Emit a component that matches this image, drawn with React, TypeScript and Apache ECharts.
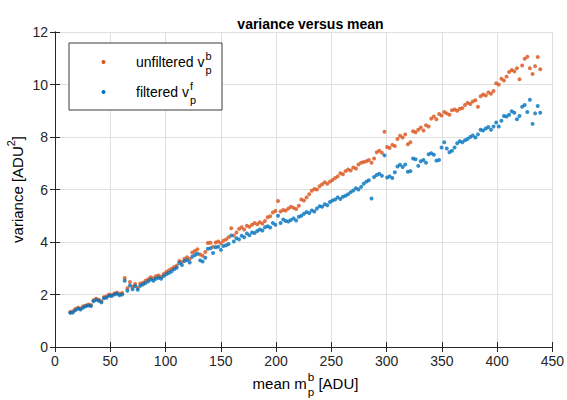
import React, { useEffect, useRef } from "react";
import * as echarts from "echarts";

// Mean signal per pixel group [ADU]
const meanADU = [
  13.8, 16.1, 18.4, 20.8, 23.1, 25.5, 27.8, 30.2, 32.5, 34.9, 37.2, 39.6, 41.9, 44.3, 46.6, 49.0, 51.3, 53.7, 56.0, 58.4,
  60.8, 63.1, 65.5, 67.8, 70.2, 72.5, 74.9, 77.2, 79.6, 81.9, 84.3, 86.6, 89.0, 91.3, 93.7, 96.0, 98.4, 100.7, 103.1, 105.4,
  107.8, 110.1, 112.5, 114.8, 117.2, 119.5, 121.9, 124.2, 126.6, 128.9, 131.3, 133.6, 136.0, 138.3, 140.7, 143.0, 145.4, 147.7, 150.1, 152.4,
  154.8, 157.1, 159.5, 161.8, 164.2, 166.5, 168.9, 171.2, 173.6, 175.9, 178.3, 180.6, 183.0, 185.3, 187.7, 190.0, 192.4, 194.7, 197.1, 199.4,
  201.8, 204.1, 206.5, 208.8, 211.2, 213.5, 215.9, 218.2, 220.6, 222.9, 225.3, 227.6, 230.0, 232.3, 234.7, 237.0, 239.4, 241.7, 244.1, 246.4,
  248.8, 251.1, 253.5, 255.8, 258.2, 260.5, 262.9, 265.2, 267.6, 269.9, 272.3, 274.6, 277.0, 279.3, 281.7, 284.0, 286.4, 288.7, 291.1, 293.4,
  295.8, 298.1, 300.5, 302.8, 305.2, 307.5, 309.9, 312.2, 314.6, 316.9, 319.3, 321.6, 324.0, 326.3, 328.7, 331.0, 333.4, 335.7, 338.1, 340.4,
  342.8, 345.1, 347.5, 349.8, 352.2, 354.5, 356.9, 359.2, 361.6, 363.9, 366.3, 368.6, 371.0, 373.3, 375.7, 378.0, 380.4, 382.7, 385.1, 387.4,
  389.8, 392.1, 394.5, 396.8, 399.2, 401.5, 403.9, 406.2, 408.6, 410.9, 413.3, 415.6, 418.0, 420.3, 422.7, 425.0, 427.4, 429.7, 432.1, 434.4, 436.8, 439.1,
];

// Variance before filtering, v_p^b [ADU^2]
const varUnfiltered = [
  1.33, 1.36, 1.45, 1.50, 1.47, 1.55, 1.58, 1.62, 1.60, 1.78, 1.84, 1.80, 1.74, 1.90, 1.93, 2.00, 1.98, 2.04, 2.08, 2.03,
  2.06, 2.63, 2.24, 2.48, 2.30, 2.40, 2.26, 2.42, 2.45, 2.52, 2.58, 2.66, 2.62, 2.70, 2.72, 2.68, 2.78, 2.86, 2.92, 2.98,
  3.05, 3.10, 3.28, 3.24, 3.36, 3.42, 3.35, 3.60, 3.66, 3.72, 3.52, 3.48, 3.62, 3.96, 3.97, 3.82, 3.98, 4.02, 3.95, 4.05,
  4.10, 4.18, 4.52, 4.25, 4.36, 4.50, 4.56, 4.48, 4.62, 4.58, 4.66, 4.72, 4.68, 4.75, 4.70, 4.80, 4.94, 4.98, 5.12, 5.18,
  5.56, 5.16, 5.22, 5.20, 5.28, 5.34, 5.30, 5.26, 5.38, 5.62, 5.58, 5.70, 5.82, 5.95, 6.02, 6.00, 6.12, 6.20, 6.28, 6.22,
  6.30, 6.36, 6.44, 6.50, 6.62, 6.58, 6.70, 6.76, 6.72, 6.84, 6.80, 6.95, 7.02, 7.05, 7.08, 7.12, 7.02, 7.18, 7.42, 7.48,
  7.40, 8.20, 7.62, 7.58, 7.70, 7.66, 7.92, 8.05, 7.98, 8.10, 7.72, 7.80, 8.22, 8.18, 8.28, 8.36, 8.25, 8.45, 8.40, 8.70,
  8.78, 8.68, 8.88, 8.82, 8.95, 8.90, 8.85, 9.02, 9.05, 9.00, 9.08, 9.10, 9.22, 9.30, 9.26, 9.35, 9.40, 9.15, 9.55, 9.62,
  9.58, 9.70, 9.65, 9.75, 10.05, 10.00, 10.22, 10.15, 10.30, 10.48, 10.55, 10.50, 10.62, 10.20, 10.72, 10.98, 11.06, 10.62, 10.40, 10.70, 11.05, 10.58,
];

// Variance after filtering, v_p^f [ADU^2]
const varFiltered = [
  1.30, 1.31, 1.40, 1.46, 1.43, 1.50, 1.55, 1.58, 1.56, 1.74, 1.80, 1.76, 1.70, 1.86, 1.88, 1.95, 1.94, 2.00, 2.03, 1.97,
  2.00, 2.52, 2.14, 2.34, 2.20, 2.32, 2.18, 2.33, 2.38, 2.44, 2.50, 2.57, 2.52, 2.60, 2.64, 2.60, 2.70, 2.77, 2.82, 2.88,
  2.96, 3.02, 3.20, 3.12, 3.28, 3.31, 3.22, 3.44, 3.50, 3.55, 3.30, 3.26, 3.40, 3.74, 3.76, 3.58, 3.80, 3.82, 3.70, 3.85,
  3.88, 3.92, 4.25, 4.02, 4.14, 4.10, 4.24, 4.18, 4.32, 4.26, 4.36, 4.34, 4.42, 4.48, 4.44, 4.56, 4.60, 4.55, 4.72, 4.66,
  5.00, 4.72, 4.86, 4.80, 4.78, 4.84, 4.90, 4.82, 4.96, 5.00, 5.08, 5.14, 5.10, 5.20, 5.16, 5.28, 5.36, 5.34, 5.44, 5.40,
  5.52, 5.58, 5.62, 5.70, 5.64, 5.72, 5.76, 5.82, 5.90, 5.96, 6.05, 6.00, 6.10, 6.22, 6.30, 6.35, 5.66, 6.48, 6.55, 6.60,
  6.52, 7.30, 6.46, 6.50, 6.44, 6.66, 6.88, 6.94, 6.86, 6.95, 6.68, 6.70, 7.18, 7.15, 6.90, 7.08, 7.12, 7.02, 7.34, 7.38,
  7.32, 7.10, 7.12, 7.60, 7.80, 7.56, 7.42, 7.48, 7.60, 7.76, 7.84, 7.80, 7.88, 7.92, 8.00, 8.06, 7.98, 8.10, 8.28, 8.25,
  8.32, 8.38, 8.28, 8.40, 8.55, 8.40, 8.62, 8.80, 8.78, 8.85, 8.98, 8.92, 8.68, 8.80, 9.15, 9.22, 8.95, 9.42, 8.50, 8.90, 9.18, 8.92,
];

const seriesNames = ["unfiltered", "filtered"];
const seriesColors = ["#D95319", "#0072BD"];

const FONT = "'Liberation Sans', Arial, Helvetica, sans-serif";
const INK = "#262626";
const GRID = "#dfdfdf";

const W = 567;
const H = 400;
const PLOT = { left: 55, right: 556, top: 32, bottom: 347 };

const TICK_SIZE = 14;
const LABEL_SIZE = 15;
const LEGEND_SIZE = 14;

const measure = (() => {
  let ctx: CanvasRenderingContext2D | null = null;
  return (text: string, size: number, weight = "normal") => {
    if (!ctx) ctx = document.createElement("canvas").getContext("2d");
    if (!ctx) return text.length * size * 0.55;
    ctx.font = `${weight} ${size}px 'Liberation Sans', Arial, sans-serif`;
    return ctx.measureText(text).width;
  };
})();

// Text with a stacked superscript/subscript pair after it, e.g. v_p^b
function scriptedText(
  x: number,
  y: number,
  base: string,
  sup: string,
  sub: string,
  tail: string,
  size: number,
  align: "left" | "center"
) {
  const small = size * 0.78;
  const wBase = measure(base, size);
  const wScript = Math.max(measure(sup, small), measure(sub, small));
  const wTail = tail ? measure(tail, size) : 0;
  const total = wBase + 1 + wScript + wTail;
  const x0 = align === "center" ? x - total / 2 : x;
  const common = { fontFamily: FONT, fill: "#000" };
  const els: any[] = [
    { type: "text", x: x0, y, style: { ...common, text: base, fontSize: size, verticalAlign: "middle" } },
    { type: "text", x: x0 + wBase + 1, y: y - size * 0.42, style: { ...common, text: sup, fontSize: small, verticalAlign: "middle" } },
    { type: "text", x: x0 + wBase + 1, y: y + size * 0.58, style: { ...common, text: sub, fontSize: small, verticalAlign: "middle" } },
  ];
  if (tail) {
    els.push({
      type: "text",
      x: x0 + wBase + 1 + wScript,
      y,
      style: { ...common, text: tail, fontSize: size, verticalAlign: "middle" },
    });
  }
  return els;
}

// Vertical axis title "variance [ADU^2]" with a raised exponent
function yTitle(cx: number, cy: number, size: number) {
  const small = size * 0.72;
  const head = "variance [ADU";
  const exp = "2";
  const tail = "]";
  const wHead = measure(head, size);
  const wExp = measure(exp, small);
  const wTail = measure(tail, size);
  const total = wHead + wExp + wTail;
  const x0 = -total / 2;
  const common = { fontFamily: FONT, fill: "#000", verticalAlign: "middle" as const };
  return {
    type: "group",
    x: cx,
    y: cy,
    rotation: Math.PI / 2,
    children: [
      { type: "text", x: x0, y: 0, style: { ...common, text: head, fontSize: size } },
      { type: "text", x: x0 + wHead, y: -size * 0.38, style: { ...common, text: exp, fontSize: small } },
      { type: "text", x: x0 + wHead + wExp, y: 0, style: { ...common, text: tail, fontSize: size } },
    ],
  };
}

export default function App() {
  const ref = useRef<HTMLDivElement>(null);

  useEffect(() => {
    if (!ref.current) return;
    const chart = echarts.init(ref.current, null, { renderer: "svg" });

    const unfilteredPts = meanADU.map((m, i) => [m, varUnfiltered[i]]);
    const filteredPts = meanADU.map((m, i) => [m, varFiltered[i]]);

    const baseAxis = {
      type: "value" as const,
      axisLine: { show: true, lineStyle: { color: INK, width: 1 } },
      axisTick: { show: true, inside: true, length: 5, lineStyle: { color: INK } },
      axisLabel: { color: INK, fontSize: TICK_SIZE, fontFamily: FONT, margin: 7 },
    };

    const legendBox = { x: 69, y: 43, w: 153, h: 67 };
    const row1 = 62;
    const row2 = 92;

    const option: echarts.EChartsOption = {
      animation: false,
      backgroundColor: "#fff",
      title: {
        text: "variance versus mean",
        left: (PLOT.left + PLOT.right) / 2,
        top: 12,
        textAlign: "center",
        textStyle: { fontFamily: FONT, fontSize: 14, fontWeight: "bold", color: "#000" },
      },
      grid: {
        left: PLOT.left,
        right: W - PLOT.right,
        top: PLOT.top,
        bottom: H - PLOT.bottom,
      },
      xAxis: [
        {
          ...baseAxis,
          min: 0,
          max: 450,
          interval: 50,
          splitLine: { show: true, lineStyle: { color: GRID, width: 1 } },
        },
        {
          ...baseAxis,
          position: "top",
          min: 0,
          max: 450,
          interval: 50,
          axisLabel: { show: false },
          splitLine: { show: false },
        },
      ],
      yAxis: [
        {
          ...baseAxis,
          min: 0,
          max: 12,
          interval: 2,
          splitLine: { show: true, lineStyle: { color: GRID, width: 1 } },
        },
        {
          ...baseAxis,
          position: "right",
          min: 0,
          max: 12,
          interval: 2,
          axisLabel: { show: false },
          splitLine: { show: false },
        },
      ],
      series: [
        {
          name: seriesNames[0],
          type: "scatter",
          data: unfilteredPts,
          symbol: "circle",
          symbolSize: 4,
          itemStyle: { color: seriesColors[0] },
          z: 3,
        },
        {
          name: seriesNames[1],
          type: "scatter",
          data: filteredPts,
          symbol: "circle",
          symbolSize: 4,
          itemStyle: { color: seriesColors[1] },
          z: 4,
        },
      ],
      graphic: [
        // legend
        {
          type: "rect",
          shape: { x: legendBox.x, y: legendBox.y, width: legendBox.w, height: legendBox.h },
          style: { fill: "#fff", stroke: "#3a3a3a", lineWidth: 1 },
          z: 10,
        },
        {
          type: "circle",
          shape: { cx: 103.5, cy: row1, r: 2 },
          style: { fill: seriesColors[0] },
          z: 11,
        },
        {
          type: "circle",
          shape: { cx: 103.5, cy: row2, r: 2 },
          style: { fill: seriesColors[1] },
          z: 11,
        },
        ...scriptedText(136, row1, "unfiltered v", "b", "p", "", LEGEND_SIZE, "left").map((e) => ({ ...e, z: 11 })),
        ...scriptedText(136, row2, "filtered v", "f", "p", "", LEGEND_SIZE, "left").map((e) => ({ ...e, z: 11 })),
        // x axis title
        ...scriptedText((PLOT.left + PLOT.right) / 2, 383, "mean m", "b", "p", " [ADU]", LABEL_SIZE, "center"),
        // y axis title
        yTitle(17, (PLOT.top + PLOT.bottom) / 2, LABEL_SIZE),
      ],
    };

    chart.setOption(option);
    return () => chart.dispose();
  }, []);

  return (
    <div
      ref={ref}
      style={{ position: "fixed", left: 0, top: 0, width: W, height: H }}
    />
  );
}
